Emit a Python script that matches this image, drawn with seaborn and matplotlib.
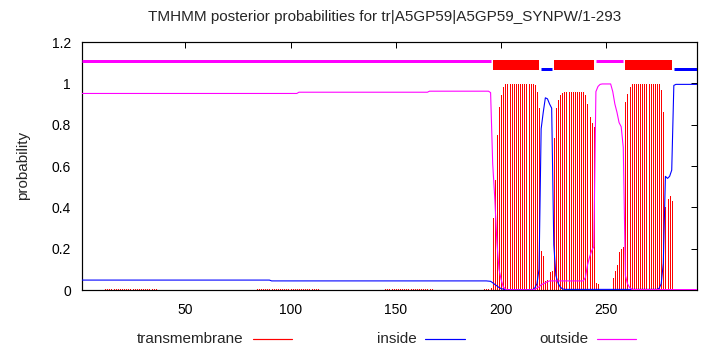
import numpy as np
import pandas as pd
import matplotlib
matplotlib.use("Agg")
import matplotlib.pyplot as plt
import seaborn as sns
from matplotlib.lines import Line2D

# ---------------- data ----------------
title = "TMHMM posterior probabilities for tr|A5GP59|A5GP59_SYNPW/1-293"
seq_len = 293

# flat stretches (start, end, value) for residues 1-189
inside_runs = [(1, 90, 0.048), (91, 189, 0.044)]
outside_runs = [(1, 103, 0.951), (104, 165, 0.957), (166, 189, 0.962)]
tm_runs = [(1, 11, 0.0), (12, 36, 0.004), (37, 83, 0.0), (84, 113, 0.004),
           (114, 144, 0.0), (145, 167, 0.004), (168, 189, 0.0)]

# per-residue values for residues 190-293
tm_detail = ([0.0, 0.0, 0.004, 0.004, 0.004, 0.011, 0.35, 0.53, 0.75, 0.887, 0.943, 0.984, 0.995]
             + [0.998] * 13
             + [0.99, 0.96, 0.88, 0.19, 0.165, 0.045, 0.048, 0.085, 0.09, 0.734, 0.88, 0.92, 0.943, 0.952, 0.956]
             + [0.958] * 9
             + [0.943, 0.90, 0.835, 0.806, 0.787, 0.032, 0.027, 0.002]
             + [0.0] * 5
             + [0.06, 0.09, 0.12, 0.185, 0.20, 0.21, 0.911, 0.948, 0.984, 0.995]
             + [0.998] * 13
             + [0.97, 0.863, 0.40, 0.44, 0.456, 0.43]
             + [0.0] * 12)

inside_detail = ([0.044, 0.044, 0.044, 0.044, 0.043, 0.042, 0.035, 0.027, 0.02, 0.012, 0.007, 0.004]
                 + [0.002] * 14
                 + [0.01, 0.03, 0.1, 0.78, 0.86, 0.93, 0.925, 0.90, 0.88, 0.22, 0.07, 0.035, 0.015, 0.006]
                 + [0.003] * 45
                 + [0.008, 0.03, 0.13, 0.55, 0.54, 0.55, 0.58]
                 + [0.99]
                 + [0.995] * 11)

outside_detail = ([0.962] * 5
                  + [0.955, 0.61, 0.44, 0.23, 0.10, 0.05, 0.015, 0.005]
                  + [0.001] * 13
                  + [0.003, 0.01, 0.015, 0.025, 0.03, 0.035, 0.04]
                  + [0.044] * 17
                  + [0.06, 0.12, 0.16, 0.19, 0.21, 0.96, 0.985, 0.995]
                  + [0.997] * 5
                  + [0.96, 0.90, 0.86, 0.81, 0.79, 0.69, 0.07, 0.03, 0.012, 0.004]
                  + [0.002] * 31)

# predicted topology (top bars)
topo_start = [1, 196, 219, 225, 245, 259, 282]
topo_end = [195, 218, 224, 244, 258, 281, 293]
topo_kind = ["outside", "TMhelix", "inside", "TMhelix", "outside", "TMhelix", "inside"]

x_ticks = [50, 100, 150, 200, 250]
y_ticks = [0, 0.2, 0.4, 0.6, 0.8, 1.0, 1.2]
y_tick_labels = ["0", "0.2", "0.4", "0.6", "0.8", "1", "1.2"]
legend_labels = ["transmembrane", "inside", "outside"]


def expand(runs, detail):
    vals = []
    for s, e, v in runs:
        vals += [v] * (e - s + 1)
    return vals + list(detail)


residues = np.arange(1, seq_len + 1)
df = pd.DataFrame({
    "residue": residues,
    "tm": expand(tm_runs, tm_detail),
    "inside": expand(inside_runs, inside_detail),
    "outside": expand(outside_runs, outside_detail),
})

RED, BLUE, MAG = "#ff0000", "#0000ff", "#ff00ff"

# ---------------- figure ----------------
sns.set_style("white")
plt.rcParams["font.family"] = ["Liberation Sans", "DejaVu Sans"]
FS_TICK = 10
FS_TEXT = 11

W, H = 710, 350
fig = plt.figure(figsize=(W / 100, H / 100), dpi=100)
ax = fig.add_axes([82 / W, 1 - 290 / H, 615 / W, 248 / H])

px = 0.72  # one pixel in points

# impulses for TM probability
ax.vlines(df["residue"], 0, df["tm"], color=RED, linewidth=px, antialiased=False, zorder=2)

sns.lineplot(data=df, x="residue", y="inside", color=BLUE, linewidth=px * 1.1,
             estimator=None, ax=ax, zorder=3)
sns.lineplot(data=df, x="residue", y="outside", color=MAG, linewidth=px * 1.1,
             estimator=None, ax=ax, zorder=4)

# topology bars on top
for s, e, k in zip(topo_start, topo_end, topo_kind):
    if k == "TMhelix":
        ax.fill_between([s, e], 1.065, 1.113, color=RED, linewidth=0, zorder=5)
    elif k == "outside":
        ax.hlines(1.11, s, e, color=MAG, linewidth=3 * px, zorder=5)
    else:
        ax.hlines(1.067, s, e, color=BLUE, linewidth=3 * px, zorder=5)

ax.set_xlim(1, seq_len)
ax.set_ylim(0, 1.2)
ax.set_xticks(x_ticks)
ax.set_xticklabels([str(t) for t in x_ticks])
ax.set_yticks(y_ticks)
ax.set_yticklabels(y_tick_labels)
ax.set_xlabel("")
ax.set_ylabel("")
ax.tick_params(direction="in", top=True, right=True, length=4, width=px,
               labelsize=FS_TICK, colors="black")
ax.tick_params(axis="x", pad=9)
ax.tick_params(axis="y", pad=8)
for sp in ax.spines.values():
    sp.set_visible(True)
    sp.set_color("black")
    sp.set_linewidth(px * 1.2)

# title and y label
fig.text(385 / W, 1 - 17 / H, title, ha="center", va="center", fontsize=FS_TEXT)
fig.text(23 / W, 1 - 165 / H, "probability", ha="center", va="center",
         rotation=90, fontsize=FS_TEXT)

# legend (gnuplot-style: text right-aligned, then sample line)
leg_text_right = [243, 417, 588]
leg_line = [(253, 292), (425, 465), (597, 636)]
leg_colors = [RED, BLUE, MAG]
ly = 1 - 339 / H
for lab, tr, (l0, l1), c in zip(legend_labels, leg_text_right, leg_line, leg_colors):
    fig.text(tr / W, ly, lab, ha="right", va="center", fontsize=FS_TEXT)
    fig.add_artist(Line2D([l0 / W, l1 / W], [ly, ly], color=c, linewidth=px * 1.2,
                          transform=fig.transFigure))

fig.savefig("out.png", dpi=100)
